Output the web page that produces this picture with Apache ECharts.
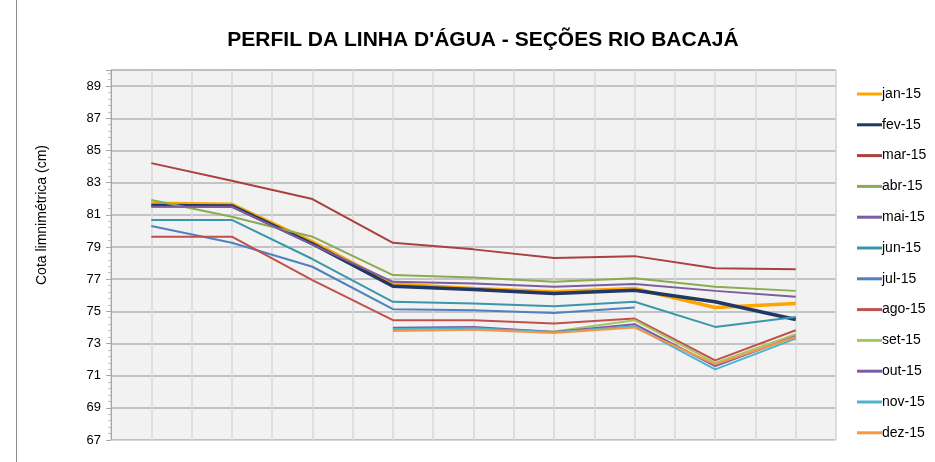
<!DOCTYPE html>
<html>
<head>
<meta charset="utf-8">
<script src="https://cdn.jsdelivr.net/npm/echarts@6/dist/echarts.min.js"></script>
<style>
  html, body { margin: 0; padding: 0; background: #fff; }
  #chart { width: 935px; height: 462px; }
</style>
</head>
<body>
<div id="chart"></div>
<script>
// seções do rio (sem rótulo no gráfico original)
var secoes = ["S1", "S2", "S3", "S4", "S5", "S6", "S7", "S8", "S9"];

var meses = ["jan-15", "fev-15", "mar-15", "abr-15", "mai-15", "jun-15",
             "jul-15", "ago-15", "set-15", "out-15", "nov-15", "dez-15"];

var jan = [81.72, 81.65, 79.32, 76.69, 76.42, 76.21, 76.42, 75.24, 75.49];
var fev = [81.57, 81.55, 79.20, 76.56, 76.36, 76.11, 76.31, 75.59, 74.49];
var mar = [84.21, 83.12, 81.98, 79.26, 78.85, 78.31, 78.43, 77.67, 77.62];
var abr = [81.92, 80.88, 79.64, 77.25, 77.10, 76.83, 77.06, 76.52, 76.27];
var mai = [81.50, 81.50, 79.15, 76.83, 76.73, 76.52, 76.69, 76.27, 75.90];
var jun = [80.68, 80.68, 78.25, 75.59, 75.49, 75.32, 75.59, 74.03, 74.65];
var jul = [80.30, 79.26, 77.77, 75.13, 75.07, 74.90, 75.24, null, null];
var ago = [79.64, 79.64, 76.94, 74.45, 74.45, 74.24, 74.55, 71.95, 73.82];
var set = [null, null, null, 73.90, 73.95, 73.75, 74.45, 71.79, 73.57];
var out = [null, null, null, 73.97, 74.03, 73.72, 74.20, 71.60, 73.45];
var nov = [null, null, null, 73.90, 73.95, 73.70, 74.07, 71.39, 73.30];
var dez = [null, null, null, 73.78, 73.85, 73.65, 73.99, 71.70, 73.40];

var dados = [jan, fev, mar, abr, mai, jun, jul, ago, set, out, nov, dez];
var cores = ["#ffa500", "#1f3864", "#a9413f", "#8aab4f", "#7a5c9f", "#3a97ab",
             "#4f81bd", "#c0504d", "#a6c662", "#7d5aa6", "#4bb4cf", "#f79646"];
var larguras = [3.5, 3.5, 2, 2, 2, 2, 2, 2, 2, 2, 2, 2];

var series = [];
for (var i = 0; i < meses.length; i++) {
  series.push({
    name: meses[i],
    type: "line",
    data: dados[i],
    symbol: "none",
    xAxisIndex: 0,
    lineStyle: { color: cores[i], width: larguras[i] },
    itemStyle: { color: cores[i] },
    emphasis: { disabled: true }
  });
}

var myChart = echarts.init(document.getElementById("chart"));
var option = {
  backgroundColor: "#fff",
  animation: false,
  title: {
    text: "PERFIL DA LINHA D'ÁGUA - SEÇÕES RIO BACAJÁ",
    left: 478,
    top: 25,
    textAlign: "center",
    textStyle: {
      fontFamily: "Liberation Sans",
      fontSize: 21,
      fontWeight: "bold",
      color: "#000"
    }
  },
  legend: {
    orient: "vertical",
    left: 852,
    top: 82,
    icon: "rect",
    itemWidth: 25,
    itemHeight: 3,
    itemGap: 16.8,
    textStyle: { fontFamily: "Liberation Sans", fontSize: 14, color: "#000", padding: [0, 0, 0, -5] },
    data: meses
  },
  grid: {
    left: 111,
    right: 99,
    top: 70,
    bottom: 22,
    show: true,
    backgroundColor: "#f2f2f2",
    borderColor: "#d9d9d9",
    borderWidth: 1
  },
  graphic: [
    {
      type: "text",
      x: 42,
      y: 215,
      rotation: Math.PI / 2,
      style: {
        text: "Cota limnimétrica (cm)",
        fontFamily: "Liberation Sans",
        fontSize: 14,
        fill: "#000",
        textAlign: "center",
        textVerticalAlign: "middle"
      }
    },
    {
      type: "line",
      shape: { x1: 16.5, y1: 0, x2: 16.5, y2: 462 },
      style: { stroke: "#8c8c8c", lineWidth: 1 }
    }
  ],
  xAxis: [
    {
      type: "category",
      data: secoes,
      boundaryGap: true,
      axisLine: { show: false },
      axisTick: { show: false },
      axisLabel: { show: false },
      splitLine: { show: false }
    },
    {
      type: "value",
      min: 0,
      max: 18,
      interval: 1,
      position: "bottom",
      axisLine: { show: true, lineStyle: { color: "#d9d9d9", width: 1 } },
      axisTick: { show: false },
      axisLabel: { show: false },
      splitLine: { show: true, lineStyle: { color: "#d9d9d9", width: 1.5 } }
    }
  ],
  yAxis: {
    type: "value",
    min: 67,
    max: 90,
    interval: 2,
    axisLine: { show: true, lineStyle: { color: "#a6a6a6" } },
    axisTick: { show: true, length: 5, lineStyle: { color: "#a6a6a6" } },
    minorTick: { show: true, splitNumber: 5, length: 3, lineStyle: { color: "#bfbfbf" } },
    axisLabel: {
      showMaxLabel: false,
      margin: 10,
      fontFamily: "Liberation Sans",
      fontSize: 13,
      color: "#000"
    },
    splitLine: { show: true, lineStyle: { color: "#b3b3b3", width: 1.5 } }
  },
  series: series
};
myChart.setOption(option);
</script>
</body>
</html>
